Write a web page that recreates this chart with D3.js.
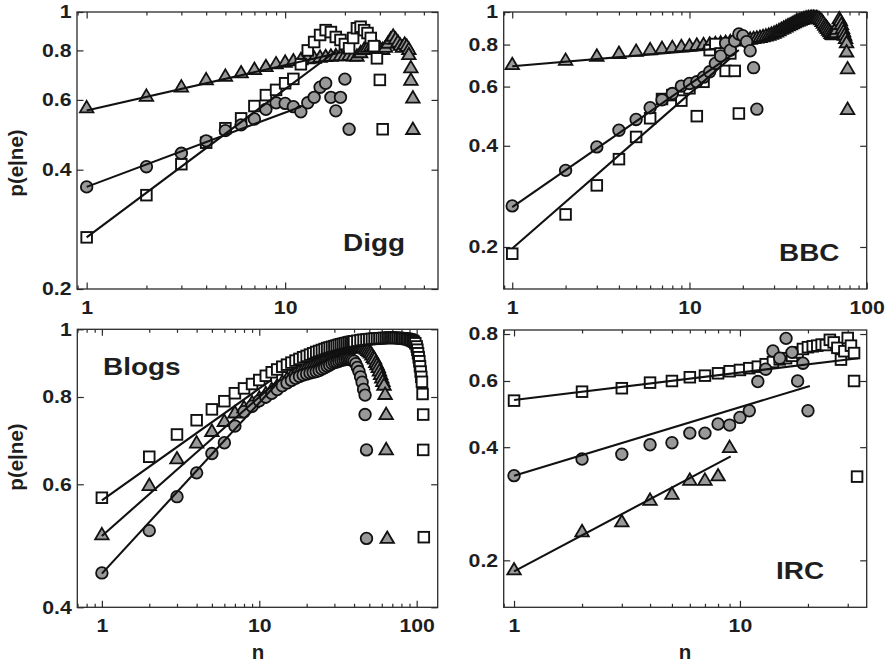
<!DOCTYPE html>
<html><head><meta charset="utf-8">
<script src="https://cdn.jsdelivr.net/npm/d3@7"></script>
<style>body{margin:0;background:#fff}svg{display:block}</style>
</head><body>
<svg id="chart" width="889" height="665"></svg>
<script>
// ---------------- DATA ([n, p(e|ne)]) ----------------
const diggTriangles = [[1,.577],[2,.617],[3,.651],[4,.679],[5,.693],[6,.707],[7,.721],[8,.733],[9,.745],[10,.752],[11,.758],[12,.763],[13,.767],[14,.770],[15,.774],[16,.777],[17,.779],[18,.781],[19,.782],[20,.781],[21,.783],[22,.780],[23,.779],[24,.795],[25,.81],[26,.82],[27,.825],[28,.83],[29,.82],[30,.815],[31,.81],[32,.82],[33,.84],[34,.86],[35,.875],[36,.86],[37,.845],[38,.83],[39,.82],[40,.835],[41,.825],[42,.81],[42,.786],[43,.728],[43,.677],[44,.611],[44,.509]];
const diggSquares = [[1,.270],[2,.345],[3,.413],[4,.468],[5,.509],[6,.539],[7,.579],[8,.617],[9,.636],[10,.661],[11,.678],[12,.738],[13,.80],[14,.84],[15,.875],[16,.90],[17,.89],[18,.865],[19,.85],[20,.83],[21,.81],[22,.86],[23,.91],[24,.918],[25,.90],[26,.885],[27,.86],[28,.82],[29,.764],[30,.674],[31,.506]];
const diggCircles = [[1,.362],[2,.407],[3,.440],[4,.473],[5,.502],[6,.519],[7,.537],[8,.568],[9,.590],[10,.588],[11,.577],[12,.560],[13,.590],[14,.609],[15,.646],[16,.661],[17,.609],[18,.563],[19,.609],[20,.677],[21,.506]];
// fit lines: [n start, p start, n end, p end] for triangles, squares, circles
const diggFits = [[1,.564,20,.795],[1,.27,18,.796],[1,.362,12,.577]];

const bbcTriangles = [[1,.703],[2,.724],[3,.745],[4,.759],[5,.770],[6,.778],[7,.785],[8,.790],[9,.795],[10,.799],[11,.803],[12,.806],[13,.809],[14,.812],[15,.815],[16,.818],[17,.822],[18,.826],[19,.830],[20,.833],[21,.835],[22,.837],[23,.840],[24,.843],[25,.847],[26,.851],[27,.855],[28,.86],[29,.866],[30,.872],[31,.879],[32,.887],[33,.895],[34,.902],[35,.91],[36,.917],[37,.923],[38,.93],[39,.937],[40,.943],[41,.948],[42,.953],[43,.957],[44,.961],[45,.964],[46,.967],[47,.969],[48,.97],[49,.971],[50,.971],[51,.97],[52,.969],[53,.967],[54,.962],[55,.955],[56,.945],[57,.933],[58,.92],[59,.91],[60,.90],[61,.89],[62,.88],[63,.87],[64,.864],[65,.862],[66,.865],[67,.875],[68,.895],[69,.925],[70,.962],[71,.95],[72,.925],[73,.90],[74,.88],[75,.86],[76,.84],[77,.816],[77,.767],[78,.683],[78,.517]];
const bbcSquares = [[1,.191],[2,.250],[3,.305],[4,.365],[5,.425],[6,.483],[7,.551],[8,.566],[9,.545],[10,.593],[11,.490],[12,.620],[13,.77],[14,.803],[15,.753],[16,.668],[17,.753],[18,.668],[19,.499]];
const bbcCircles = [[1,.265],[2,.338],[3,.397],[4,.445],[5,.479],[6,.519],[7,.548],[8,.572],[9,.602],[10,.613],[11,.62],[12,.64],[13,.664],[14,.703],[15,.74],[16,.807],[17,.77],[18,.82],[19,.86],[20,.85],[21,.816],[22,.767],[23,.683],[24,.514]];
const bbcFits = [[1,.69,14,.777],[1,.198,17,.729],[1,.263,19,.77]];

const blogsTriangles = [[1,.510],[2,.600],[3,.655],[4,.690],[5,.717],[6,.741],[7,.762],[8,.775],[9,.788],[10,.800],[11,.812],[12,.823],[13,.833],[14,.843],[15,.852],[16,.86],[17,.867],[18,.874],[19,.88],[20,.886],[21,.891],[22,.895],[23,.899],[24,.903],[25,.907],[26,.911],[27,.915],[28,.918],[29,.921],[30,.924],[31,.927],[32,.930],[33,.933],[34,.936],[35,.938],[36,.940],[37,.942],[38,.944],[39,.946],[40,.948],[41,.949],[42,.950],[43,.950],[44,.949],[45,.948],[46,.946],[47,.943],[48,.94],[49,.936],[50,.932],[51,.928],[52,.922],[53,.915],[54,.91],[55,.90],[56,.893],[57,.885],[58,.875],[59,.865],[60,.855],[61,.845],[62,.835],[63,.81],[64,.758],[64,.675],[65,.504]];
const blogsSquares = [[1,.574],[2,.657],[3,.707],[4,.741],[5,.768],[6,.789],[7,.810],[8,.823],[9,.835],[10,.846],[11,.858],[12,.868],[13,.876],[14,.884],[15,.890],[16,.896],[17,.902],[18,.907],[19,.912],[20,.916],[21,.920],[22,.924],[23,.928],[24,.931],[25,.934],[26,.937],[27,.940],[28,.942],[29,.944],[30,.946],[31,.948],[32,.950],[33,.952],[34,.953],[35,.955],[36,.956],[37,.958],[38,.959],[39,.960],[40,.961],[42,.963],[44,.965],[46,.966],[48,.967],[50,.968],[52,.969],[54,.970],[56,.970],[58,.971],[60,.971],[62,.972],[64,.972],[66,.972],[68,.973],[70,.973],[72,.972],[74,.972],[76,.972],[78,.971],[80,.971],[82,.970],[84,.970],[86,.969],[88,.968],[90,.967],[92,.965],[94,.963],[96,.96],[98,.955],[100,.945],[101,.935],[102,.924],[103,.912],[104,.90],[105,.885],[106,.87],[107,.855],[108,.841],[109,.808],[110,.755],[110,.672],[111,.504]];
const blogsCircles = [[1,.448],[2,.515],[3,.576],[4,.623],[5,.664],[6,.688],[7,.727],[8,.762],[9,.776],[10,.79],[11,.80],[12,.81],[13,.82],[14,.83],[15,.838],[16,.845],[17,.851],[18,.856],[19,.86],[20,.863],[21,.866],[22,.868],[23,.87],[24,.873],[25,.877],[26,.881],[27,.885],[28,.889],[29,.893],[30,.896],[31,.898],[32,.90],[33,.902],[34,.904],[35,.905],[36,.906],[37,.906],[38,.905],[39,.903],[40,.90],[41,.893],[42,.882],[43,.87],[44,.855],[45,.84],[46,.82],[47,.805],[47,.755],[48,.672],[48,.502]];
const blogsFits = [[1,.506,13,.843],[1,.569,12,.847],[1,.447,13,.837]];

const ircTriangles = [[1,.190],[2,.240],[3,.255],[4,.291],[5,.302],[6,.329],[7,.329],[8,.338],[9,.402]];
const ircSquares = [[1,.532],[2,.562],[3,.574],[4,.594],[5,.600],[6,.614],[7,.620],[8,.629],[9,.637],[10,.642],[11,.649],[12,.655],[13,.665],[14,.674],[15,.685],[16,.69],[17,.70],[18,.715],[19,.73],[20,.738],[21,.742],[22,.745],[23,.75],[24,.748],[25,.772],[26,.76],[27,.735],[28,.684],[29,.72],[30,.781],[31,.745],[32,.712],[32,.60],[33,.334]];
const ircCircles = [[1,.336],[2,.372],[3,.383],[4,.406],[5,.411],[6,.436],[7,.436],[8,.461],[9,.458],[10,.480],[11,.50],[12,.598],[13,.645],[14,.721],[15,.69],[16,.779],[17,.715],[18,.60],[19,.669],[20,.50]];
const ircFits = [[1,.187,9.1,.378],[1,.534,33.4,.69],[1,.336,20.4,.582]];

const panelNames = ["Digg","BBC","Blogs","IRC"];
const xTickValues = [[1,10],[1,10,100],[1,10,100],[1,10]];
const yTickValues = [[0.2,0.4,0.6,0.8,1],[0.2,0.4,0.6,0.8,1],[0.4,0.6,0.8,1],[0.2,0.4,0.6,0.8]];
const xDomains = [[0.894,58.9],[0.895,100],[0.698,136],[0.9,36.4]];
const yDomains = [[0.2,1],[0.15,1],[0.4,1],[0.15,0.82]];
const yTitle = "p(e|ne)";
const xTitle = "n";

// ---------------- LAYOUT ----------------
const boxes = [[77,438,12,289],[503.7,866.7,12,289],[77.3,437.7,329.3,607.3],[503.7,866.7,330,607.3]];
const nameAt = [[343,250.5],[779,260.5],[103,375],[776,579.3]];
const seriesSets = [
  [diggTriangles, diggSquares, diggCircles, diggFits],
  [bbcTriangles, bbcSquares, bbcCircles, bbcFits],
  [blogsTriangles, blogsSquares, blogsCircles, blogsFits],
  [ircTriangles, ircSquares, ircCircles, ircFits]
];
const FONT = "'Liberation Sans', Arial, Helvetica, sans-serif";
const GRAY = "#999999";
const INK = "#1e1e1e";

const svg = d3.select("#chart");
svg.append("rect").attr("width",889).attr("height",665).attr("fill","#fff");

const triPath = (w,h) => `M0,${-h/2}L${w/2},${h/2}L${-w/2},${h/2}Z`;

function minorTicks(dom, majors){
  const out=[];
  for (let e=-1;e<=3;e++){
    for (let k=2;k<10;k++){
      const v = +(k*Math.pow(10,e)).toPrecision(4);
      if (v>=dom[0] && v<=dom[1] && !majors.includes(v)) out.push(v);
    }
  }
  return out;
}

function styleAxis(g){
  g.select(".domain").remove();
  g.selectAll("line").attr("stroke","#2a2a2a").attr("stroke-width",1.2);
  g.attr("font-family",null).attr("font-size",null);
}

panelNames.forEach((name,i)=>{
  const [x0,x1,y0,y1] = boxes[i];
  const x = d3.scaleLog().domain(xDomains[i]).range([x0,x1]);
  const y = d3.scaleLog().domain(yDomains[i]).range([y1,y0]);
  const g = svg.append("g");
  const minors = minorTicks(xDomains[i], xTickValues[i]);
  const fmt = d => String(d);

  const gb = g.append("g").attr("transform",`translate(0,${y1})`)
    .call(d3.axisBottom(x).tickValues(xTickValues[i]).tickFormat(fmt).tickSizeInner(-6.5).tickSizeOuter(0).tickPadding(11.4));
  styleAxis(gb);
  gb.selectAll("text").attr("fill",INK).style("font-family",FONT).style("font-size","18.5px").style("font-weight","bold")
    .attr("transform","scale(1.15,1)");
  const gbm = g.append("g").attr("transform",`translate(0,${y1})`)
    .call(d3.axisBottom(x).tickValues(minors).tickFormat("").tickSizeInner(-3.5).tickSizeOuter(0));
  styleAxis(gbm);
  const gt = g.append("g").attr("transform",`translate(0,${y0})`)
    .call(d3.axisTop(x).tickValues(xTickValues[i]).tickFormat("").tickSizeInner(-6.5).tickSizeOuter(0));
  styleAxis(gt);
  const gtm = g.append("g").attr("transform",`translate(0,${y0})`)
    .call(d3.axisTop(x).tickValues(minors).tickFormat("").tickSizeInner(-3.5).tickSizeOuter(0));
  styleAxis(gtm);
  const gl = g.append("g").attr("transform",`translate(${x0},0)`)
    .call(d3.axisLeft(y).tickValues(yTickValues[i]).tickFormat(fmt).tickSizeInner(-6.5).tickSizeOuter(0).tickPadding(4.8));
  styleAxis(gl);
  gl.selectAll("text").attr("fill",INK).style("font-family",FONT).style("font-size","18.5px").style("font-weight","bold")
    .attr("transform","scale(1.15,1)");
  const gr = g.append("g").attr("transform",`translate(${x1},0)`)
    .call(d3.axisRight(y).tickValues(yTickValues[i]).tickFormat("").tickSizeInner(-6.5).tickSizeOuter(0));
  styleAxis(gr);

  g.append("rect").attr("x",x0).attr("y",y0).attr("width",x1-x0).attr("height",y1-y0)
    .attr("fill","none").attr("stroke","#2a2a2a").attr("stroke-width",1.3);

  const [tris, sqs, circs, fits] = seriesSets[i];
  const marks = g.append("g");
  marks.selectAll("path.tri").data(tris).join("path").attr("class","tri")
    .attr("d",triPath(13.5,11.5)).attr("transform",d=>`translate(${x(d[0])},${y(d[1])})`)
    .attr("fill",GRAY).attr("stroke","#111").attr("stroke-width",1.8).attr("stroke-linejoin","miter");
  marks.selectAll("rect.sq").data(sqs).join("rect").attr("class","sq")
    .attr("x",d=>x(d[0])-5.3).attr("y",d=>y(d[1])-5.3).attr("width",10.6).attr("height",10.6)
    .attr("fill","#fff").attr("stroke","#111").attr("stroke-width",1.9);
  marks.selectAll("circle.ci").data(circs).join("circle").attr("class","ci")
    .attr("cx",d=>x(d[0])).attr("cy",d=>y(d[1])).attr("r",5.8)
    .attr("fill",GRAY).attr("stroke","#111").attr("stroke-width",1.8);
  g.append("g").selectAll("line").data(fits).join("line")
    .attr("x1",d=>x(d[0])).attr("y1",d=>y(d[1])).attr("x2",d=>x(d[2])).attr("y2",d=>y(d[3]))
    .attr("stroke","#111").attr("stroke-width",2.1);

  g.append("text").attr("transform",`translate(${nameAt[i][0]},${nameAt[i][1]}) scale(1.14,1)`)
    .attr("fill",INK).style("font-family",FONT).style("font-size","24.5px").style("font-weight","bold").text(name);
});

[[23,163],[23,457]].forEach(([tx,ty])=>{
  svg.append("text").attr("transform",`translate(${tx},${ty}) rotate(-90)`).attr("text-anchor","middle")
    .attr("fill",INK).style("font-family",FONT).style("font-size","20.5px").style("font-weight","bold").text(yTitle);
});
[[258,659],[685,659]].forEach(([tx,ty])=>{
  svg.append("text").attr("x",tx).attr("y",ty).attr("text-anchor","middle")
    .attr("fill",INK).style("font-family",FONT).style("font-size","20.5px").style("font-weight","bold").text(xTitle);
});
</script>
</body></html>
